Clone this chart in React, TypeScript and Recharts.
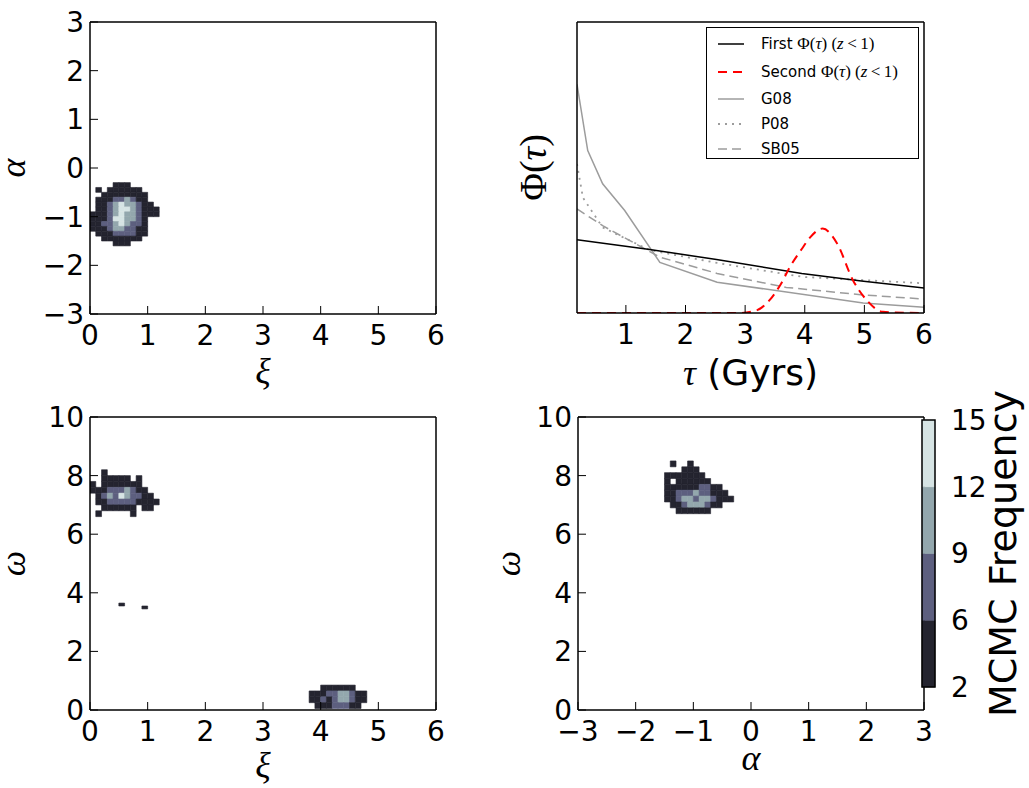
import React from "react";
import {
  Legend,
  Line,
  LineChart,
  ReferenceArea,
  Scatter,
  ScatterChart,
  XAxis,
  YAxis,
} from "recharts";

// MCMC frequency contour levels and fill colours (bone-like ramp)
const levels = [2, 6, 9, 12, 15];
const levelColors = ["#24242f", "#5d5f7f", "#93a7ad", "#d6e4e4"];

// axis ticks
const xiTicks = [0, 1, 2, 3, 4, 5, 6];
const alphaTicks = [-3, -2, -1, 0, 1, 2, 3];
const omegaTicks = [0, 2, 4, 6, 8, 10];
const tauTicks = [1, 2, 3, 4, 5, 6];
const phiTicks = [0, 1, 2, 3, 4, 5];

// xi vs alpha histogram, cells 0.1 x 0.1, first row starts at alpha = -0.3
const xiAlphaGrid = { x0: 0, y0: -0.3, dx: 0.1, dy: 0.1 };
const xiAlphaFreq = [
  [0, 0, 0, 0, 3, 3, 3, 0, 0, 0, 0, 0, 0],
  [0, 3, 0, 3, 3, 3, 3, 3, 3, 0, 0, 0, 0],
  [0, 0, 3, 3, 3, 3, 3, 3, 3, 3, 0, 0, 0],
  [0, 3, 3, 3, 7, 7, 10, 7, 3, 3, 0, 0, 0],
  [0, 3, 3, 7, 10, 13, 10, 10, 7, 3, 3, 0, 0],
  [0, 3, 3, 7, 10, 13, 13, 10, 7, 3, 3, 3, 0],
  [3, 3, 3, 7, 10, 13, 10, 10, 7, 3, 3, 3, 0],
  [3, 3, 3, 7, 13, 13, 10, 10, 7, 3, 0, 0, 0],
  [3, 3, 7, 7, 10, 13, 10, 7, 7, 3, 0, 0, 0],
  [3, 3, 3, 7, 10, 10, 7, 7, 3, 3, 0, 0, 0],
  [0, 3, 3, 3, 7, 7, 7, 7, 3, 3, 0, 0, 0],
  [0, 0, 3, 3, 3, 3, 3, 3, 3, 0, 0, 0, 0],
  [0, 0, 0, 0, 3, 3, 3, 0, 0, 0, 0, 0, 0],
];

// xi vs omega, upper mode
const xiOmegaGridA = { x0: 0, y0: 8.2, dx: 0.1, dy: 0.2 };
const xiOmegaFreqA = [
  [0, 0, 3, 0, 0, 0, 0, 0, 0, 0, 0, 0],
  [0, 0, 3, 3, 3, 3, 3, 0, 3, 0, 0, 0],
  [3, 0, 3, 3, 3, 3, 3, 3, 3, 0, 0, 0],
  [3, 3, 3, 7, 7, 7, 10, 7, 3, 3, 0, 0],
  [0, 3, 7, 10, 7, 13, 10, 7, 7, 3, 3, 0],
  [0, 3, 3, 7, 7, 7, 7, 7, 3, 3, 3, 3],
  [0, 0, 3, 3, 3, 3, 3, 3, 0, 3, 3, 0],
  [0, 3, 0, 0, 0, 0, 0, 3, 0, 0, 0, 0],
];

// xi vs omega, lower mode
const xiOmegaGridB = { x0: 3.8, y0: 0.85, dx: 0.1, dy: 0.2 };
const xiOmegaFreqB = [
  [0, 0, 3, 3, 3, 3, 3, 3, 0, 0],
  [3, 3, 3, 7, 7, 10, 10, 7, 3, 3],
  [3, 3, 7, 3, 7, 10, 10, 7, 3, 3],
  [0, 3, 3, 3, 7, 7, 7, 3, 3, 0],
];

// xi vs omega, two isolated specks
const xiOmegaGridC = { x0: 0.5, y0: 3.65, dx: 0.1, dy: 0.1 };
const xiOmegaFreqC = [
  [3, 0, 0, 0, 0],
  [0, 0, 0, 0, 3],
];

// alpha vs omega
const alphaOmegaGrid = { x0: -1.6, y0: 8.5, dx: 0.1, dy: 0.2 };
const alphaOmegaFreq = [
  [0, 0, 3, 0, 0, 3, 0, 0, 0, 0, 0, 0, 0],
  [0, 0, 0, 0, 3, 3, 3, 0, 0, 0, 0, 0, 0],
  [0, 3, 3, 3, 3, 3, 3, 3, 0, 0, 0, 0, 0],
  [0, 3, 0, 3, 3, 3, 3, 3, 3, 0, 0, 0, 0],
  [0, 3, 3, 3, 3, 3, 3, 7, 7, 3, 3, 0, 0],
  [0, 3, 3, 7, 7, 7, 10, 7, 7, 3, 3, 3, 0],
  [0, 3, 3, 7, 10, 10, 7, 10, 10, 7, 3, 3, 3],
  [0, 0, 3, 3, 7, 10, 10, 10, 7, 3, 3, 0, 0],
  [0, 0, 0, 3, 3, 3, 3, 3, 3, 0, 0, 0, 0],
];

// delay time distributions Phi(tau)
const tauFirst = [0.18, 1.4, 2.52, 3.95, 4.95, 6];
const phiFirst = [1.26, 1.09, 0.92, 0.68, 0.55, 0.43];
const tauSecond = [0.18, 2.9, 3.2, 3.41, 3.6, 3.75, 3.95, 4.09, 4.3, 4.54, 4.81, 5.04, 5.31, 6];
const phiSecond = [0, 0, 0.05, 0.22, 0.5, 0.79, 1.1, 1.3, 1.45, 1.2, 0.56, 0.22, 0.02, 0];
const tauG08 = [0.18, 0.36, 0.61, 0.98, 1.57, 2.53, 4.98, 6];
const phiG08 = [3.93, 2.79, 2.22, 1.76, 0.87, 0.53, 0.17, 0.1];
const tauP08 = [0.18, 0.28, 0.61, 1.4, 2.53, 3.97, 6];
const phiP08 = [2.56, 1.98, 1.47, 1.08, 0.86, 0.62, 0.51];
const tauSB05 = [0.18, 0.61, 1.57, 2.53, 3.69, 4.98, 6];
const phiSB05 = [1.79, 1.5, 0.96, 0.68, 0.44, 0.31, 0.24];

const SANS = "DejaVu Sans";
const SERIF = "Liberation Serif";
const tickFont = { fontSize: 28, fill: "#000", fontFamily: SANS };
const frameLine = { stroke: "#000", strokeWidth: 1.5 };
const tickStroke = { stroke: "#000", strokeWidth: 1 };
const gray = "#9c9c9c";
const dotted = "2 5";
const dashed = "9 5";

const fmt = (v: number) => String(v).replace("-", "\u2212");
const zip = (xs: number[], ys: number[]) => xs.map((x, i) => ({ x, y: ys[i] }));

type Grid = { x0: number; y0: number; dx: number; dy: number };

function toCells(freq: number[][], g: Grid) {
  const cells: { x1: number; x2: number; y1: number; y2: number; cx: number; cy: number; f: number }[] = [];
  freq.forEach((row, j) =>
    row.forEach((f, i) => {
      if (f < levels[0]) return;
      const x1 = g.x0 + i * g.dx;
      const y2 = g.y0 - j * g.dy;
      cells.push({ x1, x2: x1 + g.dx, y1: y2 - g.dy, y2, cx: x1 + g.dx / 2, cy: y2 - g.dy / 2, f });
    })
  );
  return cells;
}

function colorFor(f: number) {
  let k = 0;
  while (k < levelColors.length - 1 && f >= levels[k + 1]) k++;
  return levelColors[k];
}

function cellAreas(cells: ReturnType<typeof toCells>, prefix: string) {
  return cells.map((c, i) => {
    const col = colorFor(c.f);
    return (
      <ReferenceArea
        key={`${prefix}${i}`}
        xAxisId="b"
        yAxisId="l"
        x1={c.x1}
        x2={c.x2}
        y1={c.y1}
        y2={c.y2}
        fill={col}
        fillOpacity={1}
        stroke={col}
        strokeWidth={0.6}
        ifOverflow="hidden"
      />
    );
  });
}

function bottomLabel(content: React.ReactNode, off: number, size = 36) {
  return (props: any) => {
    const vb = props.viewBox;
    return (
      <text x={vb.x + vb.width / 2} y={vb.y + off} textAnchor="middle" fontSize={size} fontFamily={SANS} fill="#000">
        {content}
      </text>
    );
  };
}

function sideLabel(content: React.ReactNode, off: number, size = 36) {
  return (props: any) => {
    const vb = props.viewBox;
    const x = vb.x + vb.width - off;
    const y = vb.y + vb.height / 2;
    return (
      <text x={x} y={y} transform={`rotate(-90 ${x} ${y})`} textAnchor="middle" fontSize={size} fontFamily={SANS} fill="#000">
        {content}
      </text>
    );
  };
}

const It = ({ children }: { children: React.ReactNode }) => (
  <tspan fontFamily={SERIF} fontStyle="italic">
    {children}
  </tspan>
);

function frameAxes(o: {
  xKey?: string;
  yKey?: string;
  xDomain: number[];
  xTicks: number[];
  xHeight: number;
  xLabel?: any;
  yDomain: number[];
  yTicks: number[];
  yWidth: number;
  yLabels?: boolean;
  yLabel?: any;
}) {
  const common = {
    type: "number" as const,
    allowDataOverflow: true,
    interval: 0 as const,
    tickSize: -8,
    axisLine: frameLine,
    tickLine: tickStroke,
  };
  return [
    <XAxis
      key="xb"
      xAxisId="b"
      dataKey={o.xKey}
      domain={o.xDomain}
      ticks={o.xTicks}
      height={o.xHeight}
      tick={tickFont}
      tickMargin={19}
      tickFormatter={fmt}
      label={o.xLabel}
      {...common}
    />,
    <XAxis key="xt" xAxisId="t" orientation="top" domain={o.xDomain} ticks={o.xTicks} height={1} tick={false} {...common} />,
    <YAxis
      key="yl"
      yAxisId="l"
      dataKey={o.yKey}
      domain={o.yDomain}
      ticks={o.yTicks}
      width={o.yWidth}
      tick={o.yLabels === false ? false : tickFont}
      tickMargin={14}
      tickFormatter={fmt}
      label={o.yLabel}
      {...common}
    />,
    <YAxis key="yr" yAxisId="r" orientation="right" domain={o.yDomain} ticks={o.yTicks} width={1} tick={false} {...common} />,
  ];
}

function anchor(cells: ReturnType<typeof toCells>) {
  return (
    <Scatter xAxisId="b" yAxisId="l" data={cells} fill="none" shape={() => <g />} isAnimationActive={false} />
  );
}

function XiAlphaPanel() {
  const cells = toCells(xiAlphaFreq, xiAlphaGrid);
  return (
    <div style={{ position: "absolute", left: 0, top: 0 }}>
      <ScatterChart width={480} height={400} margin={{ top: 21, right: 43, bottom: 6, left: 30 }}>
        {frameAxes({
          xKey: "cx",
          yKey: "cy",
          xDomain: [0, 6],
          xTicks: xiTicks,
          xHeight: 80,
          xLabel: bottomLabel(<It>ξ</It>, 69),
          yDomain: [-3, 3],
          yTicks: alphaTicks,
          yWidth: 60,
          yLabel: sideLabel(<It>α</It>, 65),
        })}
        {cellAreas(cells, "a")}
        {anchor(cells)}
      </ScatterChart>
    </div>
  );
}

function XiOmegaPanel() {
  const cells = [
    ...toCells(xiOmegaFreqA, xiOmegaGridA),
    ...toCells(xiOmegaFreqB, xiOmegaGridB),
    ...toCells(xiOmegaFreqC, xiOmegaGridC),
  ];
  return (
    <div style={{ position: "absolute", left: 0, top: 400 }}>
      <ScatterChart width={480} height={388} margin={{ top: 16, right: 43, bottom: 6, left: 30 }}>
        {frameAxes({
          xKey: "cx",
          yKey: "cy",
          xDomain: [0, 6],
          xTicks: xiTicks,
          xHeight: 72,
          xLabel: bottomLabel(<It>ξ</It>, 67),
          yDomain: [0, 10],
          yTicks: omegaTicks,
          yWidth: 60,
          yLabel: sideLabel(<It>ω</It>, 65),
        })}
        {cellAreas(cells, "w")}
        {anchor(cells)}
      </ScatterChart>
    </div>
  );
}

function AlphaOmegaPanel() {
  const cells = toCells(alphaOmegaFreq, alphaOmegaGrid);
  return (
    <div style={{ position: "absolute", left: 500, top: 400 }}>
      <ScatterChart width={529} height={388} margin={{ top: 16, right: 104, bottom: 6, left: 38 }}>
        {frameAxes({
          xKey: "cx",
          yKey: "cy",
          xDomain: [-3, 3],
          xTicks: alphaTicks,
          xHeight: 72,
          xLabel: bottomLabel(<It>α</It>, 60),
          yDomain: [0, 10],
          yTicks: omegaTicks,
          yWidth: 40,
          yLabel: sideLabel(<It>ω</It>, 58),
        })}
        {cellAreas(cells, "o")}
        {anchor(cells)}
      </ScatterChart>
    </div>
  );
}

const mathPart = (
  <span style={{ fontFamily: SERIF, fontSize: 17 }}>
    Φ(<i>τ</i>) (<i>z</i>
    {"\u2009<\u2009"}1)
  </span>
);

const legendItems = [
  { label: <>First {mathPart}</>, stroke: "#000", dash: undefined as string | undefined, width: 1.5, h: 28 },
  { label: <>Second {mathPart}</>, stroke: "#ff0000", dash: "9 6", width: 2, h: 28 },
  { label: <>G08</>, stroke: gray, dash: undefined, width: 1.5, h: 26 },
  { label: <>P08</>, stroke: gray, dash: dotted, width: 1.8, h: 24 },
  { label: <>SB05</>, stroke: gray, dash: dashed, width: 1.5, h: 25 },
];

function PhiLegend() {
  return (
    <div
      style={{
        width: 211,
        height: 128,
        border: "1.5px solid #000",
        background: "#fff",
        boxSizing: "content-box",
        paddingTop: 2,
        fontFamily: SANS,
        fontSize: 15,
        color: "#000",
      }}
    >
      {legendItems.map((it, i) => (
        <div key={i} style={{ height: it.h, display: "flex", alignItems: "center" }}>
          <svg width={54} height={10} style={{ flex: "none" }}>
            <line x1={11} x2={37} y1={5} y2={5} stroke={it.stroke} strokeWidth={it.width} strokeDasharray={it.dash} />
          </svg>
          <span style={{ whiteSpace: "nowrap" }}>{it.label}</span>
        </div>
      ))}
    </div>
  );
}

function PhiPanel() {
  return (
    <div style={{ position: "absolute", left: 500, top: 0 }}>
      <LineChart width={529} height={400} margin={{ top: 21, right: 104, bottom: 7, left: 37 }}>
        {frameAxes({
          xKey: "x",
          xDomain: [0.18, 6],
          xTicks: tauTicks,
          xHeight: 80,
          xLabel: bottomLabel(
            <>
              <It>τ</It> (Gyrs)
            </>,
            72
          ),
          yDomain: [0, 5],
          yTicks: phiTicks,
          yWidth: 40,
          yLabels: false,
          yLabel: sideLabel(
            <tspan fontFamily={SERIF}>
              Φ(<tspan fontStyle="italic">τ</tspan>)
            </tspan>,
            31,
            38
          ),
        })}
        <Line xAxisId="b" yAxisId="l" data={zip(tauG08, phiG08)} dataKey="y" stroke={gray} strokeWidth={1.5} dot={false} isAnimationActive={false} />
        <Line xAxisId="b" yAxisId="l" data={zip(tauP08, phiP08)} dataKey="y" stroke={gray} strokeWidth={1.8} strokeDasharray={dotted} dot={false} isAnimationActive={false} />
        <Line xAxisId="b" yAxisId="l" data={zip(tauSB05, phiSB05)} dataKey="y" stroke={gray} strokeWidth={1.5} strokeDasharray={dashed} dot={false} isAnimationActive={false} />
        <Line xAxisId="b" yAxisId="l" data={zip(tauFirst, phiFirst)} dataKey="y" stroke="#000" strokeWidth={1.5} dot={false} isAnimationActive={false} />
        <Line
          xAxisId="b"
          yAxisId="l"
          type="monotone"
          data={zip(tauSecond, phiSecond)}
          dataKey="y"
          stroke="#ff0000"
          strokeWidth={2}
          strokeDasharray="9 6"
          dot={false}
          isAnimationActive={false}
        />
        <Legend
          layout="vertical"
          align="center"
          verticalAlign="middle"
          content={() => <PhiLegend />}
          wrapperStyle={{ left: 206, top: 27, width: 215 }}
        />
      </LineChart>
    </div>
  );
}

function Colorbar() {
  // contourf colourbar: equal-height bands between consecutive levels
  const idx = levels.map((_, i) => i);
  const top = levels.length - 1;
  const mids = levelColors.map((_, k) => ({ x: 0.5, y: k + 0.5 }));
  return (
    <div style={{ position: "absolute", left: 900, top: 360 }}>
      <ScatterChart width={129} height={360} margin={{ top: 60, right: 0, bottom: 33, left: 22 }}>
        <XAxis xAxisId="c" type="number" dataKey="x" domain={[0, 1]} hide />
        <YAxis
          yAxisId="c"
          orientation="right"
          type="number"
          dataKey="y"
          domain={[0, top]}
          ticks={idx}
          interval={0}
          tickFormatter={(i: number) => String(levels[i])}
          width={94}
          tickLine={false}
          axisLine={false}
          tick={tickFont}
          tickMargin={10}
          label={(props: any) => {
            const vb = props.viewBox;
            const x = vb.x + 81;
            const y = vb.y + vb.height / 2;
            return (
              <text x={x} y={y} transform={`rotate(-90 ${x} ${y})`} textAnchor="middle" fontSize={38} fontFamily={SANS} fill="#000">
                MCMC Frequency
              </text>
            );
          }}
        />
        {levelColors.map((c, k) => (
          <ReferenceArea key={k} xAxisId="c" yAxisId="c" x1={0} x2={1} y1={k} y2={k + 1} fill={c} fillOpacity={1} stroke={c} strokeWidth={0.5} />
        ))}
        <ReferenceArea xAxisId="c" yAxisId="c" x1={0} x2={1} y1={0} y2={top} fill="none" stroke="#000" strokeWidth={1.5} />
        <Scatter xAxisId="c" yAxisId="c" data={mids} fill="none" shape={() => <g />} isAnimationActive={false} />
      </ScatterChart>
    </div>
  );
}

export default function App() {
  return (
    <div style={{ position: "absolute", left: 0, top: 0, width: 1029, height: 788, background: "#fff", overflow: "hidden" }}>
      <XiAlphaPanel />
      <PhiPanel />
      <XiOmegaPanel />
      <AlphaOmegaPanel />
      <Colorbar />
    </div>
  );
}
